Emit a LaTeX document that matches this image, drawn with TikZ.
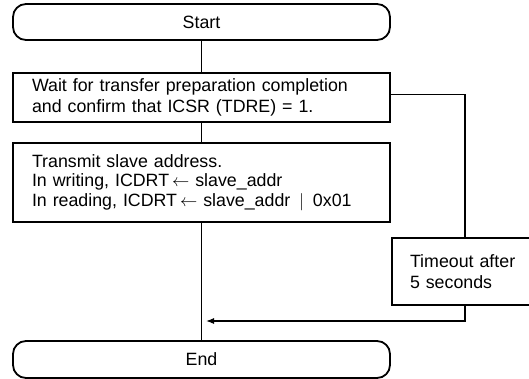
\documentclass[tikz,border=0pt]{standalone}
\usepackage{fontspec}
\setmainfont{Liberation Sans}
\usetikzlibrary{arrows.meta}

\begin{document}
\begin{tikzpicture}[x=1pt, y=-1pt,
  txt/.style={font=\fontsize{17.8}{20.5}\selectfont},
  terminal/.style={txt, draw, line width=1.8pt, rounded corners=13pt,
    minimum width=377pt, inner sep=0pt},
  process/.style={txt, draw, line width=2.6pt, align=left,
    inner xsep=19pt, inner ysep=0pt},
  link/.style={line width=1.1pt},
  tip/.style={-{Latex[length=8pt,width=6pt]}}
  ]
  \useasboundingbox (0,0) rectangle (529,379);
  \clip (0,0) rectangle (529,379);

  % terminals
  \node[terminal, minimum height=36pt] (start) at (201.5,22) {Start};
  \node[terminal, minimum height=37pt] (end) at (201.5,359.5) {End};

  % processing steps
  \node[process, text width=339pt, minimum height=49pt] (wait) at (201.5,97.5)
    {Wait for transfer preparation completion\\and confirm that ICSR (TDRE) = 1.};
  \node[process, text width=339pt, minimum height=79pt,
    font=\fontsize{17.8}{19.6}\selectfont] (send) at (201.5,182.5)
    {Transmit slave address.\\
     In writing, ICDRT\,$\leftarrow$ slave\_addr\\
     In reading, ICDRT\,$\leftarrow$ slave\_addr \,$|$\, 0x01};

  % timeout branch
  \node[process, text width=110pt, inner xsep=18pt, minimum height=67pt] (timeout)
    at (465,271.5) {Timeout after\\5 seconds};

  % main flow
  \draw[link] (start) -- (wait);
  \draw[link] (wait) -- (send);
  \draw[link] (send) -- (end);

  % timeout path joining the main flow
  \coordinate (join) at (206,321);
  \draw[link] ([yshift=3pt]wait.east) -| (timeout.north);
  \draw[link, tip] (timeout.south) |- (join);
\end{tikzpicture}
\end{document}
